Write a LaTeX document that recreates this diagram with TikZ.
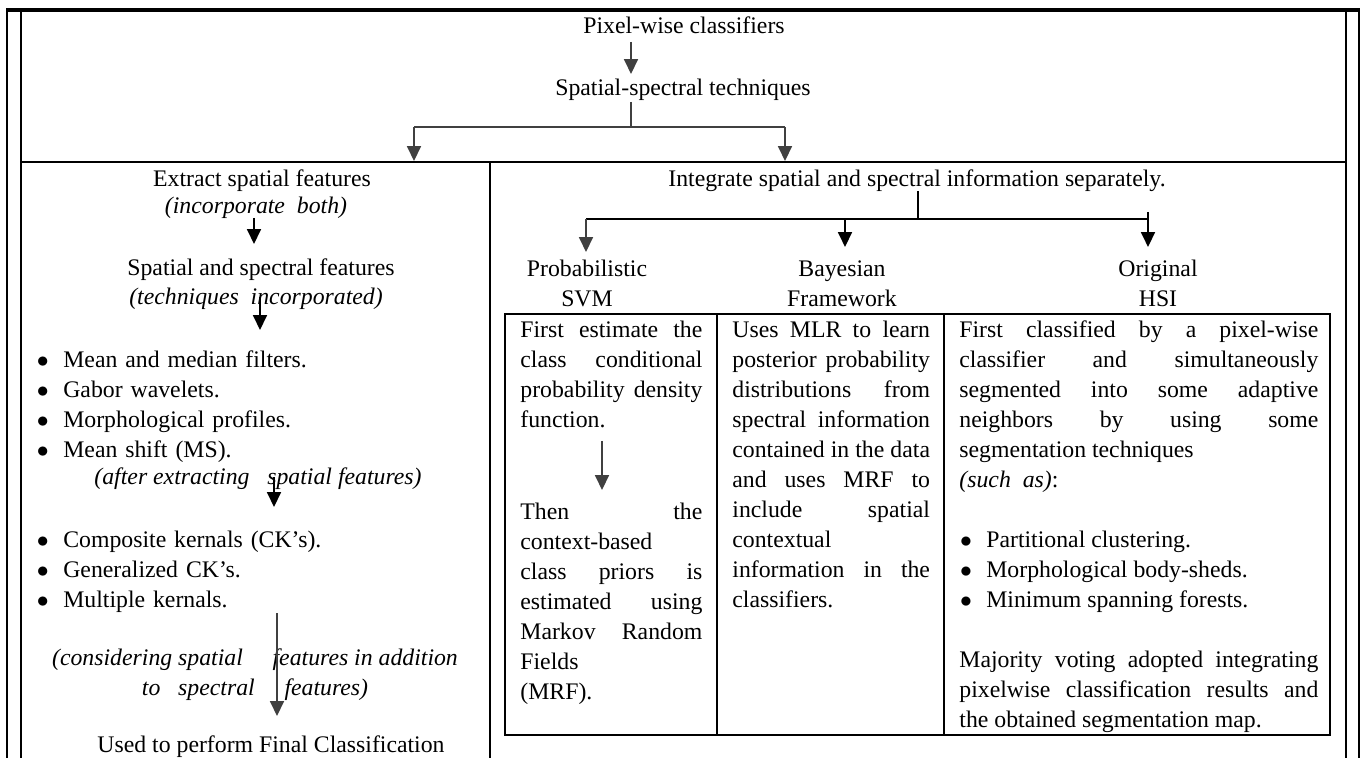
\documentclass[tikz,border=0pt]{standalone}
\usepackage{fontspec}
\setmainfont{Liberation Serif}
\usetikzlibrary{calc,arrows.meta,fit}

\newcommand{\itm}{\makebox[13.6pt][l]{\hspace{0.3pt}$\bullet$}}

\begin{document}
\begin{tikzpicture}[x=0.505pt, y=-0.505pt]

\pgfmathsetlengthmacro{\svmWidth}{182*0.505pt}
\pgfmathsetlengthmacro{\bayWidth}{99.8pt}
\pgfmathsetlengthmacro{\hsiWidth}{359*0.505pt}
\tikzset{
  txt/.style={inner sep=0pt, anchor=base, font=\fontsize{12}{15.15}\selectfont},
  itx/.style={txt, font=\fontsize{12}{15.15}\selectfont\itshape},
  cell/.style={inner sep=0pt, anchor=north west, align=justify, font=\fontsize{12}{15.15}\selectfont,
    execute at begin node={\parindent=0pt\tolerance=10000\hyphenpenalty=10000\exhyphenpenalty=10000}},
  box/.style={draw, line width=1pt, inner sep=0pt},
  arr/.style={-{Triangle[length=7.5pt,width=7pt]}, line width=1pt},
  garr/.style={arr, draw=darkgray},
  gline/.style={draw=darkgray, line width=0.75pt},
  bline/.style={draw=black, line width=0.9pt},
}

\useasboundingbox (0,0) rectangle (1364,758);
\clip (0,0) rectangle (1364,758);

% frame
\draw[line width=1pt] (7,10) -- (7,770);
\draw[line width=1pt] (1359,10) -- (1359,770);
\draw[line width=2pt] (6,10) -- (1360,10);

\node[box, fit={(21,10) (1346,162)}] (top) {};
\node[box, fit={(21,162) (490,780)}] (lcol) {};
\node[box, fit={(490,162) (1346,780)}] (rcol) {};

% top row
\node[txt] (pix) at (684,34) {Pixel-wise classifiers};
\node[txt] (spsp) at (683,96) {Spatial-spectral techniques};
\coordinate (split) at (631,127);
\coordinate (splitL) at (414,127);
\coordinate (splitR) at (785,127);
\draw[garr] ($(pix.base -| split)+(0,8)$) -- ($(spsp.base -| split)+(0,-22)$);
\draw[gline] ($(spsp.base -| split)+(0,6)$) -- (split);
\draw[gline] (splitL) -- (splitR);
\draw[garr] (splitL) -- (splitL |- lcol.north);
\draw[garr] (splitR) -- (splitR |- rcol.north);

% left column
\node[txt] (ext) at (262,187) {Extract spatial features};
\node[itx] (inc) at (256,214) {(incorporate~ both)};
\node[txt] (ssf) at (261,276) {Spatial and spectral features};
\draw[arr] ($(inc.base)+(-2,4)$) -- ($(ssf.base)+(-7,-32)$);
\node[itx] (tin) at (256,305) {(techniques~ incorporated)};
\node[cell, align=left, text width=200pt] (lst1) at (36,346) {\strut\itm Mean and median filters.\\ \itm Gabor wavelets.\\ \itm Morphological profiles.\\ \itm Mean shift (MS).};
\draw[arr] ($(tin.base)+(4,-8)$) -- ($(lst1.north west)+(224,-16)$);
\node[itx] (aft) at (258,485) {(after extracting~~ spatial features)};
\node[cell, align=left, text width=200pt] (lst2) at (36,526) {\strut\itm Composite kernals (CK’s).\\ \itm Generalized CK’s.\\ \itm Multiple kernals.};
\draw[arr] ($(aft.base)+(16,-8)$) -- ($(lst2.north west)+(238,-19)$);
\node[itx] (cons) at (255,665) {(considering spatial\hspace{12pt} features in addition};
\node[itx] (tosp) at (255,695) {to\hspace{6pt} spectral\hspace{12pt} features)};
\node[txt] (used) at (271,752) {Used to perform Final Classification};
\draw[garr] ($(cons.base)+(22,-52)$) -- ($(used.base)+(6,-36)$);

% right column
\node[txt] (integ) at (917,187) {Integrate spatial and spectral information separately.};
\coordinate (split2) at (918,219);
\coordinate (split2L) at (586,219);
\coordinate (split2M) at (845,219);
\coordinate (split2R) at (1148,219);
\draw[bline] ($(integ.base -| split2)+(0,4)$) -- (split2);
\draw[bline] (split2L) -- (split2R);
\node[cell, align=center, text width=120pt, anchor=north] (prob) at (587,255) {\strut Probabilistic\\ SVM};
\node[cell, align=center, text width=120pt, anchor=north] (bayes) at (842,255) {\strut Bayesian\\ Framework};
\node[cell, align=center, text width=120pt, anchor=north] (orig) at (1158,255) {\strut Original\\ HSI};
\draw[garr] (split2L) -- ($(split2L |- prob.north)+(0,-3)$);
\draw[arr] (split2M) -- ($(split2M |- bayes.north)+(0,-8)$);
\draw[arr] ($(split2R)+(0,-7)$) -- ($(split2R |- orig.north)+(0,-8)$);

% inner table
\node[box, fit={(505,314) (717,735)}] (svmcell) {};
\node[box, fit={(717,314) (944,735)}] (baycell) {};
\node[box, fit={(944,314) (1330,735)}] (hsicell) {};

\node[cell, text width=\svmWidth] (svmA) at (520,316) {\strut First estimate the\linebreak class conditional\linebreak probability density\linebreak function.\strut};
\node[cell, text width=\svmWidth] (svmB) at (520,498) {\strut Then the\linebreak context-based\\ class priors is\linebreak estimated using\linebreak Markov Random\linebreak Fields\\ (MRF).};
\draw[garr] ($(svmA.south west)+(82,4)$) -- ($(svmB.north west)+(82,-8)$);

\node[cell, text width=\bayWidth] (bay) at (732,316) {\strut Uses MLR to learn\linebreak posterior probability\linebreak distributions from\linebreak spectral information\linebreak contained in the data\linebreak and uses MRF to\linebreak include spatial\linebreak contextual\\ information in the\linebreak classifiers.};

\node[cell, text width=\hsiWidth] (hsi) at (959,316) {\strut First classified by a pixel-wise\linebreak classifier and simultaneously\linebreak segmented into some adaptive\linebreak neighbors by using some\linebreak segmentation techniques\\ \textit{(such~ as)}:\\ \mbox{}\\ \itm Partitional clustering.\\ \itm Morphological body-sheds.\\ \itm Minimum spanning forests.\\ \mbox{}\\ Majority voting adopted integrating\linebreak pixelwise classification results and\linebreak the obtained segmentation map.};

\end{tikzpicture}
\end{document}
